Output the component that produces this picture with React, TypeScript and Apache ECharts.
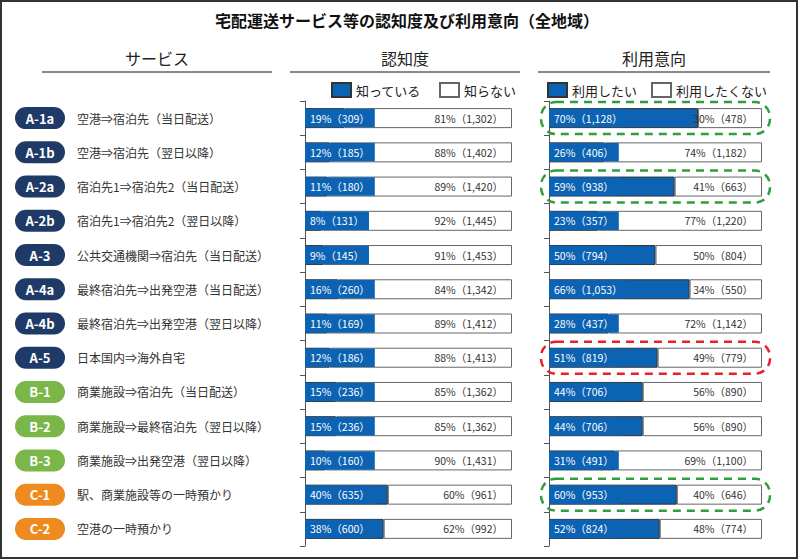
import React, { useEffect, useRef } from "react";
import * as echarts from "echarts";

const FONT = '"Noto Sans CJK JP", "Noto Sans", sans-serif';

const codes = ["A-1a", "A-1b", "A-2a", "A-2b", "A-3", "A-4a", "A-4b", "A-5", "B-1", "B-2", "B-3", "C-1", "C-2"];
const services = [
  "空港⇒宿泊先（当日配送）",
  "空港⇒宿泊先（翌日以降）",
  "宿泊先1⇒宿泊先2（当日配送）",
  "宿泊先1⇒宿泊先2（翌日以降）",
  "公共交通機関⇒宿泊先（当日配送）",
  "最終宿泊先⇒出発空港（当日配送）",
  "最終宿泊先⇒出発空港（翌日以降）",
  "日本国内⇒海外自宅",
  "商業施設⇒宿泊先（当日配送）",
  "商業施設⇒最終宿泊先（翌日以降）",
  "商業施設⇒出発空港（翌日以降）",
  "駅、商業施設等の一時預かり",
  "空港の一時預かり",
];

const knowPct = [19, 12, 11, 8, 9, 16, 11, 12, 15, 15, 10, 40, 38];
const knowN = [309, 185, 180, 131, 145, 260, 169, 186, 236, 236, 160, 635, 600];
const unknownPct = [81, 88, 89, 92, 91, 84, 89, 88, 85, 85, 90, 60, 62];
const unknownN = [1302, 1402, 1420, 1445, 1453, 1342, 1412, 1413, 1362, 1362, 1431, 961, 992];

const usePct = [70, 26, 59, 23, 50, 66, 28, 51, 44, 44, 31, 60, 52];
const useN = [1128, 406, 938, 357, 794, 1053, 437, 819, 706, 706, 491, 953, 824];
const noUsePct = [30, 74, 41, 77, 50, 34, 72, 49, 56, 56, 69, 40, 48];
const noUseN = [478, 1182, 663, 1220, 804, 550, 1142, 779, 890, 890, 1100, 646, 774];

const greenHighlights = ["A-1a", "A-2a", "C-1"];
const redHighlights = ["A-5"];

const BLUE = "#0d63b3";
const fmt = (p: number, n: number) => `${p}%（${n.toLocaleString("en-US")}）`;

export default function App() {
  const ref = useRef<HTMLDivElement>(null);

  useEffect(() => {
    document.body.style.margin = "0";
    const chart = echarts.init(ref.current!, null, { renderer: "svg" });

    const blueLabel = (nArr: number[], pArr: number[]) => ({
      show: true,
      position: "insideLeft",
      distance: 0,
      color: "#fff",
      fontSize: 10.5,
      fontFamily: FONT,
      backgroundColor: BLUE,
      padding: [4, 5, 4, 5],
      formatter: (p: any) => fmt(pArr[p.dataIndex], nArr[p.dataIndex]),
    });
    const whiteLabel = (nArr: number[], pArr: number[]) => ({
      show: true,
      position: "insideRight",
      distance: 9,
      color: "#333",
      fontSize: 10.5,
      fontFamily: FONT,
      formatter: (p: any) => fmt(pArr[p.dataIndex], nArr[p.dataIndex]),
    });

    const badgeStyle = (bg: string) => ({
      backgroundColor: bg,
      borderRadius: 11,
      width: 50,
      height: 22,
      lineHeight: 22,
      align: "center",
      color: "#fff",
      fontSize: 13,
      fontWeight: "bold",
      fontFamily: FONT,
    });

    const yAxisCommon = {
      type: "category",
      data: codes,
      inverse: true,
      axisLine: { show: true, lineStyle: { color: "#555", width: 1 } },
      axisTick: { show: true, length: 5, lineStyle: { color: "#555" } },
    };

    const legendCommon = {
      top: 82,
      padding: 0,
      itemWidth: 19,
      itemHeight: 14,
      icon: "rect",
      textStyle: { fontSize: 13, color: "#222", fontFamily: FONT },
    };

    const option: any = {
      animation: false,
      textStyle: { fontFamily: FONT },
      legend: [
        { ...legendCommon, data: ["知っている", "知らない"], left: 331, itemGap: 18 },
        { ...legendCommon, data: ["利用したい", "利用したくない"], left: 547, itemGap: 14 },
      ],
      grid: [
        { left: 305, width: 207, top: 101, height: 445 },
        { left: 549, width: 213, top: 101, height: 445 },
      ],
      xAxis: [
        { type: "value", gridIndex: 0, min: 0, max: 100, show: false },
        { type: "value", gridIndex: 1, min: 0, max: 100, show: false },
      ],
      yAxis: [
        {
          ...yAxisCommon,
          gridIndex: 0,
          axisLabel: {
            show: true,
            align: "left",
            margin: 290,
            formatter: (v: string) => {
              const i = codes.indexOf(v);
              const g = v.charAt(0);
              return `{b${g}|${v}}{t|${services[i]}}`;
            },
            rich: {
              bA: badgeStyle("#1f3a66"),
              bB: badgeStyle("#7ab648"),
              bC: badgeStyle("#ee8a1f"),
              t: { fontSize: 12, color: "#333", fontFamily: FONT, padding: [0, 0, 0, 12] },
            },
          },
        },
        { ...yAxisCommon, gridIndex: 1, axisLabel: { show: false } },
      ],
      series: [
        {
          name: "知っている",
          type: "bar",
          stack: "k",
          xAxisIndex: 0,
          yAxisIndex: 0,
          barWidth: 20,
          data: knowPct,
          itemStyle: { color: BLUE, borderColor: "#333", borderWidth: 1 },
          label: blueLabel(knowN, knowPct),
        },
        {
          name: "知らない",
          type: "bar",
          stack: "k",
          xAxisIndex: 0,
          yAxisIndex: 0,
          barWidth: 20,
          data: unknownPct,
          itemStyle: { color: "#fff", borderColor: "#666", borderWidth: 1 },
          label: whiteLabel(unknownN, unknownPct),
        },
        {
          name: "利用したい",
          type: "bar",
          stack: "u",
          xAxisIndex: 1,
          yAxisIndex: 1,
          barWidth: 20,
          data: usePct,
          itemStyle: { color: BLUE, borderColor: "#333", borderWidth: 1 },
          label: blueLabel(useN, usePct),
        },
        {
          name: "利用したくない",
          type: "bar",
          stack: "u",
          xAxisIndex: 1,
          yAxisIndex: 1,
          barWidth: 20,
          data: noUsePct,
          itemStyle: { color: "#fff", borderColor: "#666", borderWidth: 1 },
          label: whiteLabel(noUseN, noUsePct),
        },
      ],
    };

    chart.setOption(option);

    const headerText = (text: string, x: number) => ({
      type: "text",
      x,
      y: 58,
      style: { text, fontSize: 16, fill: "#222", fontFamily: FONT, align: "center", verticalAlign: "middle" },
    });
    const headerLine = (x1: number, x2: number) => ({
      type: "line",
      shape: { x1, y1: 72, x2, y2: 72 },
      style: { stroke: "#8a8a8a", lineWidth: 2 },
    });

    const ovals: any[] = [];
    const addOval = (code: string, color: string) => {
      const i = codes.indexOf(code);
      const p0 = chart.convertToPixel({ xAxisIndex: 1, yAxisIndex: 1 }, [0, i]) as number[];
      const p1 = chart.convertToPixel({ xAxisIndex: 1, yAxisIndex: 1 }, [100, i]) as number[];
      ovals.push({
        type: "rect",
        shape: { x: p0[0] - 8, y: p0[1] - 16, width: p1[0] - p0[0] + 16, height: 32, r: 15 },
        style: { fill: "none", stroke: color, lineWidth: 2.5, lineDash: [8, 6] },
        z: 100,
      });
    };
    greenHighlights.forEach((c) => addOval(c, "#2f9e3c"));
    redHighlights.forEach((c) => addOval(c, "#e8202a"));

    chart.setOption({
      graphic: {
        elements: [
          {
            type: "rect",
            shape: { x: 1, y: 1, width: 796, height: 557 },
            style: { fill: "none", stroke: "#333", lineWidth: 2 },
          },
          {
            type: "text",
            x: 407,
            y: 20,
            style: {
              text: "宅配運送サービス等の認知度及び利用意向（全地域）",
              fontSize: 16,
              fontWeight: "bold",
              fill: "#111",
              fontFamily: FONT,
              align: "center",
              verticalAlign: "middle",
            },
          },
          headerText("サービス", 157),
          headerText("認知度", 405),
          headerText("利用意向", 654),
          headerLine(42, 272),
          headerLine(290, 520),
          headerLine(538, 770),
          ...ovals,
        ],
      },
    });

    return () => chart.dispose();
  }, []);

  return <div ref={ref} style={{ width: 800, height: 560, background: "#fff" }} />;
}
